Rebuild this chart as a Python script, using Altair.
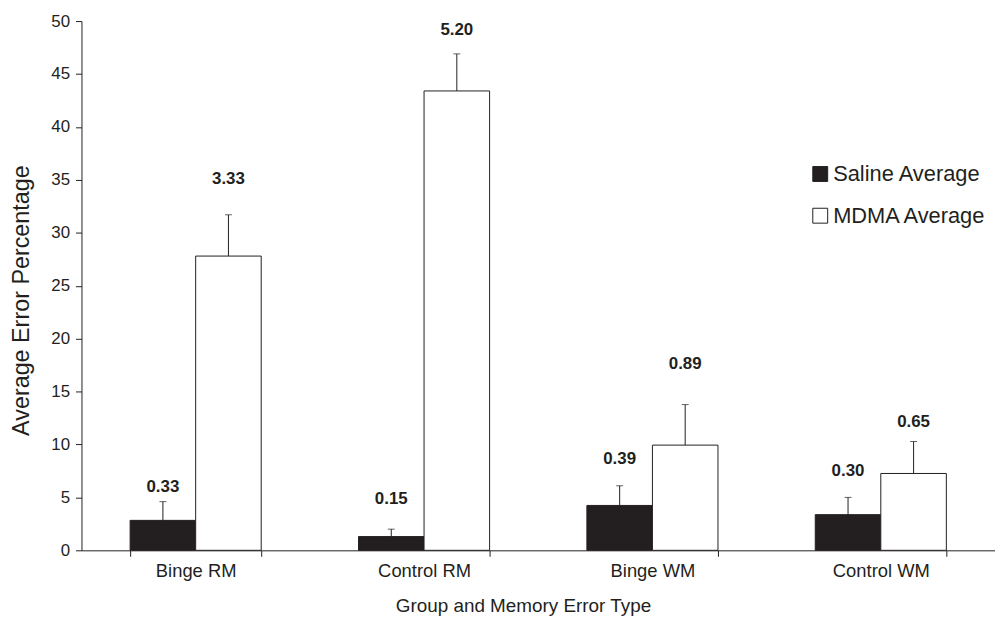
import altair as alt
import pandas as pd

categories = ["Binge RM", "Control RM", "Binge WM", "Control WM"]
series = ["Saline Average", "MDMA Average"]

saline_mean = [2.83, 1.30, 4.24, 3.37]
saline_err_top = [4.60, 2.00, 6.10, 5.00]
saline_text = ["0.33", "0.15", "0.39", "0.30"]
saline_text_pos = [5.98, 4.85, 8.61, 7.48]

mdma_mean = [27.8, 43.4, 9.94, 7.26]
mdma_err_top = [31.7, 46.9, 13.77, 10.28]
mdma_text = ["3.33", "5.20", "0.89", "0.65"]
mdma_text_pos = [35.06, 49.16, 17.62, 12.08]

rows = []
for i, c in enumerate(categories):
    rows.append(dict(cat=c, series=series[0], mean=saline_mean[i], err=saline_err_top[i],
                     txt=saline_text[i], tpos=saline_text_pos[i]))
    rows.append(dict(cat=c, series=series[1], mean=mdma_mean[i], err=mdma_err_top[i],
                     txt=mdma_text[i], tpos=mdma_text_pos[i]))
df = pd.DataFrame(rows)

INK = "#231f20"
FONT = "Liberation Sans"

x_enc = alt.X("cat:N", sort=categories,
              scale=alt.Scale(paddingInner=0.426, paddingOuter=0.213),
              axis=alt.Axis(title="Group and Memory Error Type", labelAngle=0,
                            tickBand="extent", tickSize=6, labelPadding=5,
                            labelFontSize=18.5, titleFontSize=19, titleFontWeight="normal",
                            titleX=316, titleY=62, titleAlign="left",
                            titleBaseline="alphabetic",
                            domainColor=INK, tickColor=INK, labelColor=INK, titleColor=INK))
xo_enc = alt.XOffset("series:N", sort=series, scale=alt.Scale(domain=series, paddingInner=0, paddingOuter=0))
y_scale = alt.Scale(domain=[0, 50], nice=False)

bars = alt.Chart(df).mark_bar(stroke=INK, strokeWidth=1).encode(
    x=x_enc,
    xOffset=xo_enc,
    y=alt.Y("mean:Q", scale=y_scale,
            axis=alt.Axis(title="Average Error Percentage", values=list(range(0, 51, 5)),
                          grid=False, tickSize=6, labelPadding=6, labelFontSize=17,
                          titleFontSize=23.5, titleFontWeight="normal",
                          titleX=-53, titleY=281, titleAngle=-90, titleAlign="center",
                          titleBaseline="alphabetic",
                          domainColor=INK, tickColor=INK, labelColor=INK, titleColor=INK)),
    color=alt.Color("series:N", sort=series,
                    scale=alt.Scale(domain=series, range=[INK, "#ffffff"]),
                    legend=alt.Legend(title=None, orient="none", legendX=733, legendY=143,
                                      symbolType="square", symbolSize=225,
                                      symbolStrokeColor=INK, symbolStrokeWidth=1,
                                      labelFontSize=22, labelColor=INK, labelFont=FONT,
                                      rowPadding=20, labelOffset=2, padding=0)),
)

stems = alt.Chart(df).mark_rule(color=INK, strokeWidth=1).encode(
    x=alt.X("cat:N", sort=categories),
    xOffset=alt.XOffset("series:N", sort=series),
    y="mean:Q",
    y2="err:Q",
)

caps = alt.Chart(df).mark_tick(color=INK, orient="horizontal", size=7, thickness=1).encode(
    x=alt.X("cat:N", sort=categories),
    xOffset=alt.XOffset("series:N", sort=series),
    y="err:Q",
)

labels = alt.Chart(df).mark_text(fontWeight="bold", fontSize=17, color=INK,
                                 baseline="middle", align="center", font=FONT).encode(
    x=alt.X("cat:N", sort=categories),
    xOffset=alt.XOffset("series:N", sort=series),
    y="tpos:Q",
    text="txt:N",
)

chart = alt.layer(bars, stems, caps, labels).properties(
    width=920, height=533,
    autosize=alt.AutoSizeParams(type="none"),
    padding={"left": 74, "top": 11, "right": 0, "bottom": 68},
).configure(font=FONT).configure_view(stroke=None)

chart.save("out.html", embed_options={"renderer": "svg", "actions": False})
